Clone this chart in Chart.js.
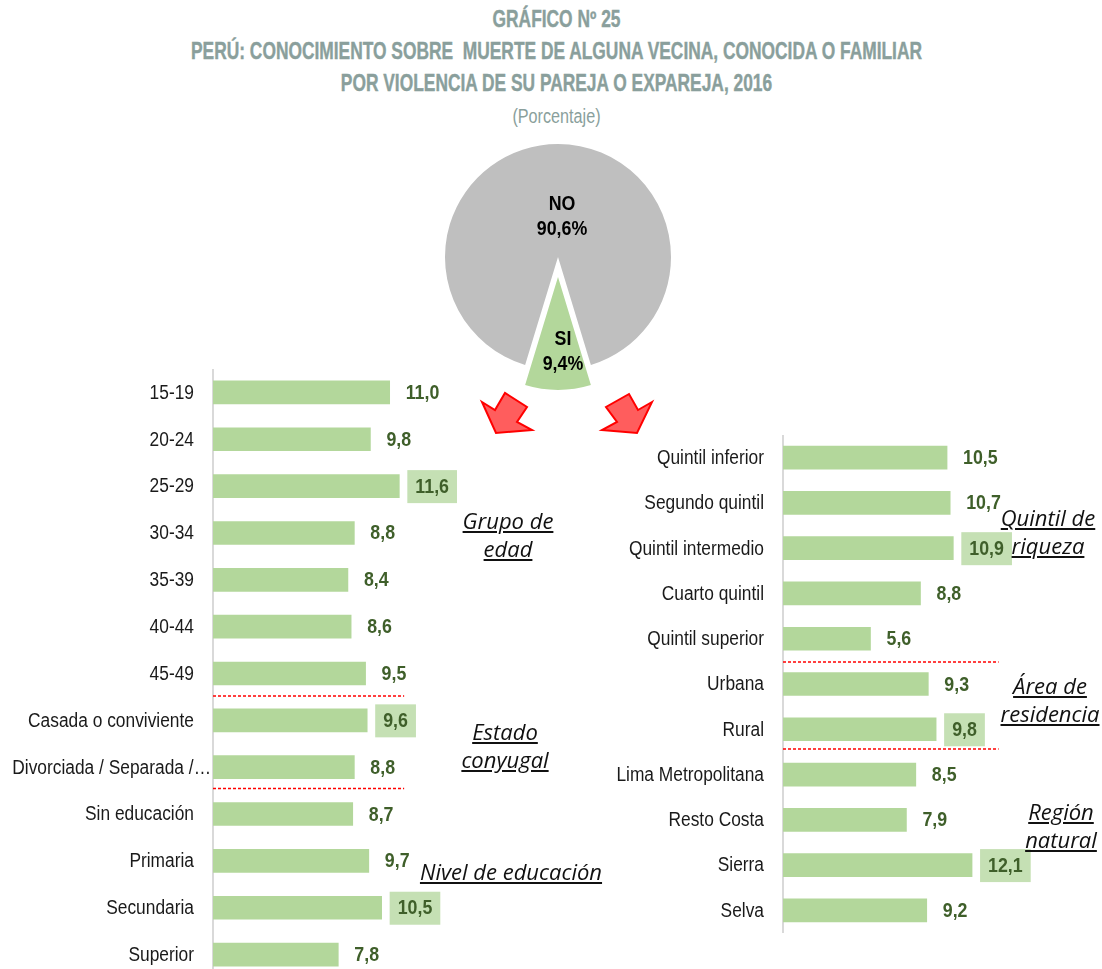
<!DOCTYPE html>
<html lang="es"><head><meta charset="utf-8">
<script src="https://cdn.jsdelivr.net/npm/chart.js@4"></script>
<style>
html,body{margin:0;padding:0;background:#fff;width:1102px;height:969px;overflow:hidden}
#stage{position:relative;width:1102px;height:969px;overflow:hidden}
canvas{position:absolute}
.t{position:absolute;white-space:pre;transform:scaleX(.755);transform-origin:50% 0;left:0;width:1113px;text-align:center;color:#8a9f9c;font-family:"Liberation Sans",sans-serif;font-weight:700;font-size:23px;line-height:26px;-webkit-text-stroke:.4px #8a9f9c}
.n{position:absolute;font-family:"Open Sans",sans-serif;font-style:italic;font-size:22px;line-height:28px;color:#111;text-decoration:underline;text-align:center;white-space:pre}
svg{position:absolute;left:0;top:0}
</style></head><body><div id="stage">
<div class="t" style="top:6px">GRÁFICO Nº 25</div>
<div class="t" style="top:38px">PERÚ: CONOCIMIENTO SOBRE  MUERTE DE ALGUNA VECINA, CONOCIDA O FAMILIAR</div>
<div class="t" style="top:70px">POR VIOLENCIA DE SU PAREJA O EXPAREJA, 2016</div>
<div class="t" style="top:103px;font-weight:400;font-size:20px;transform:scaleX(.81);-webkit-text-stroke:0">(Porcentaje)</div>
<canvas id="pie" style="left:408px;top:107px" width="300" height="300"></canvas>
<canvas id="left" style="left:0;top:369px" width="470" height="609"></canvas>
<canvas id="right" style="left:600px;top:435px" width="433" height="498"></canvas>
<svg width="1102" height="969">
<polygon points="482,402 495,410 505,393 527,407 517,422 532,430 496,433" fill="#ff5d5d" stroke="#f00" stroke-width="2"/>
<polygon points="652,402 638,410 629,394 606,407 617,422 602,430 637,433" fill="#ff5d5d" stroke="#f00" stroke-width="2"/>
</svg>
<div class="n" style="left:448px;top:506px;width:120px">Grupo de
edad</div>
<div class="n" style="left:445px;top:717px;width:120px">Estado
conyugal</div>
<div class="n" style="left:411px;top:857px;width:200px">Nivel de educación</div>
<div class="n" style="left:988px;top:503px;width:120px">Quintil de
riqueza</div>
<div class="n" style="left:990px;top:671px;width:120px">Área de
residencia</div>
<div class="n" style="left:1001px;top:797px;width:120px">Región
natural</div>
</div>
<script>
const FONT = '"Liberation Sans",Arial,sans-serif';
const SQUEEZE = 0.89;
const pieLabels = ['NO', 'SI'];
const pieValues = [90.6, 9.4];
const leftCategories = ['15-19','20-24','25-29','30-34','35-39','40-44','45-49','Casada o conviviente','Divorciada / Separada /…','Sin educación','Primaria','Secundaria','Superior'];
const leftValues = [11.0,9.8,11.6,8.8,8.4,8.6,9.5,9.6,8.8,8.7,9.7,10.5,7.8];
const leftHighlighted = ['25-29','Casada o conviviente','Secundaria'];
const leftSeparators = [6.48,8.454];
const rightCategories = ['Quintil inferior','Segundo quintil','Quintil intermedio','Cuarto quintil','Quintil superior','Urbana','Rural','Lima Metropolitana','Resto Costa','Sierra','Selva'];
const rightValues = [10.5,10.7,10.9,8.8,5.6,9.3,9.8,8.5,7.9,12.1,9.2];
const rightHighlighted = ['Quintil intermedio','Rural','Sierra'];
const rightSeparators = [4.514,6.436];
const fmt = v => v.toFixed(1).replace('.', ',');

// The reference uses a condensed face: squeeze canvas text horizontally around its anchor.
function condensed(canvas){
  const g = canvas.getContext('2d'), base = g.fillText.bind(g);
  g.fillText = (s,x,y,m)=>{ g.save(); g.translate(x,y+1); g.scale(SQUEEZE,1);
    if(m===undefined) base(s,0,0); else base(s,0,0,m/SQUEEZE); g.restore(); };
  return canvas;
}

const pieLabelPlugin = {id:'pieLabelPlugin',
  afterDatasetsUpdate(c){
    const a=c.getDatasetMeta(0).data[1], mid=(a.startAngle+a.endAngle)/2;
    a.x+=Math.cos(mid)*20; a.y+=Math.sin(mid)*20;
  },
  afterDatasetsDraw(c){
    const g=c.ctx, arcs=c.getDatasetMeta(0).data;
    g.save(); g.fillStyle='#000'; g.textAlign='center'; g.textBaseline='middle';
    g.font='bold 20px '+FONT;
    arcs.forEach((a,i)=>{
      const top=i===0?a.y-54:a.y+61;
      g.fillText(pieLabels[i],a.x+(i===0?4:5),top);
      g.fillText(fmt(pieValues[i])+'%',a.x+(i===0?4:5),top+25);
    });
    g.restore();
  }};
new Chart(condensed(document.getElementById('pie')),{type:'pie',plugins:[pieLabelPlugin],
  data:{labels:pieLabels,datasets:[{data:pieValues,backgroundColor:['#bfbfbf','#b3d79b'],borderWidth:0,clip:false}]},
  options:{responsive:false,maintainAspectRatio:false,animation:false,rotation:196.92,layout:{padding:37},plugins:{legend:{display:false},tooltip:{enabled:false}}}});

function barChart(id,cats,vals,hi,seps,sepMax,axisWidth){
  const overlay={id:'overlay',afterDatasetsDraw(c){
    const g=c.ctx,x=c.scales.x,y=c.scales.y,bars=c.getDatasetMeta(0).data;
    g.save(); g.font='bold 20px '+FONT; g.textBaseline='middle'; g.textAlign='left';
    bars.forEach((b,i)=>{
      const s=fmt(vals[i]),w=g.measureText(s).width*SQUEEZE,tx=b.x+16,ty=b.y;
      if(hi.includes(cats[i])){g.fillStyle='#c5e0b4';g.fillRect(tx-8,ty-16,w+16,33);}
      g.fillStyle='#3f5f2a';g.fillText(s,tx,ty);
    });
    g.strokeStyle='#ff0000';g.lineWidth=1.4;g.setLineDash([3,2]);
    seps.forEach(v=>{const p=y.getPixelForValue(v);g.beginPath();g.moveTo(x.getPixelForValue(0),p);g.lineTo(x.getPixelForValue(sepMax),p);g.stroke();});
    g.setLineDash([]);
    cats.forEach((t,i)=>{ if(t.endsWith('…')){g.font='19.5px '+FONT;g.fillStyle='#1a1a1a';g.textAlign='right';g.fillText(t,x.left-2,y.getPixelForValue(i));}});
    g.restore();
  }};
  new Chart(condensed(document.getElementById(id)),{type:'bar',plugins:[overlay],
    data:{labels:cats,datasets:[{data:vals,backgroundColor:'#b3d79b',barThickness:23}]},
    options:{indexAxis:'y',responsive:false,maintainAspectRatio:false,animation:false,layout:{padding:0},
      plugins:{legend:{display:false},tooltip:{enabled:false}},
      scales:{
        x:{display:false,min:0,max:16},
        y:{afterFit(s){s.width=axisWidth;s.paddingTop=0;s.paddingBottom=0;},grid:{display:false,drawTicks:false},border:{display:true,color:'#d9d9d9',width:2},
           ticks:{padding:19,color:'#1a1a1a',autoSkip:false,font:{family:FONT,size:19.5},callback(v){const l=this.getLabelForValue(v);return l.endsWith('…')?'':l;}}}
      }}});
}
barChart('left',leftCategories,leftValues,leftHighlighted,leftSeparators,11.9,213);
barChart('right',rightCategories,rightValues,rightHighlighted,rightSeparators,13.8,183);
</script></body></html>
